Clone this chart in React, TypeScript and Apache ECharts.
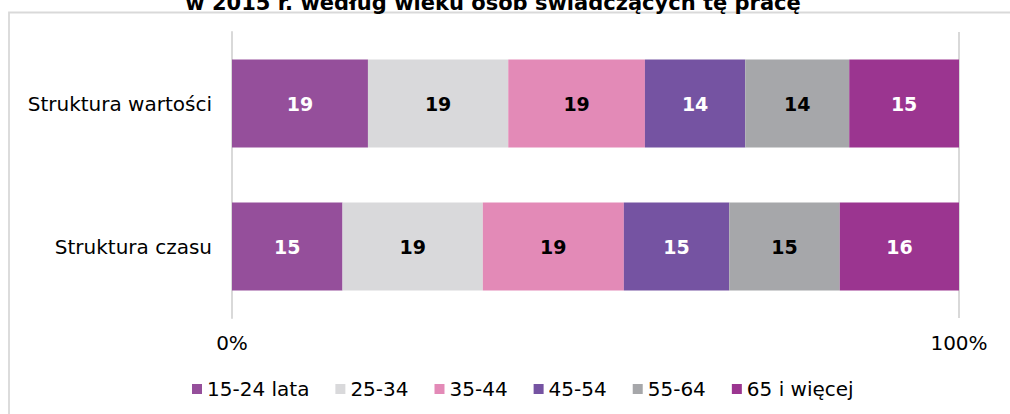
import React, { useEffect, useRef } from "react";
import * as echarts from "echarts";

const categories = ["Struktura wartości", "Struktura czasu"];
const seriesNames = ["15-24 lata", "25-34", "35-44", "45-54", "55-64", "65 i więcej"];
const seriesColors = ["#954F9B", "#D9D9DB", "#E38AB7", "#7553A2", "#A6A7AA", "#9B3590"];
const labelColors = ["#FFFFFF", "#000000", "#000000", "#FFFFFF", "#000000", "#FFFFFF"];
// values per series: [Struktura wartości, Struktura czasu]
const v15_24 = [18.7, 15.2];
const v25_34 = [19.3, 19.3];
const v35_44 = [18.8, 19.4];
const v45_54 = [13.8, 14.5];
const v55_64 = [14.3, 15.2];
const v65plus = [15.1, 16.4];
const seriesValues = [v15_24, v25_34, v35_44, v45_54, v55_64, v65plus];
const titleText = "w 2015 r. według wieku osób świadczących tę pracę";

const FONT = '"DejaVu Sans", Verdana, sans-serif';

export default function App() {
  const ref = useRef<HTMLDivElement>(null);
  useEffect(() => {
    if (!ref.current) return;
    const chart = echarts.init(ref.current, null, { renderer: "svg" });
    chart.setOption({
      animation: false,
      backgroundColor: "#ffffff",
      textStyle: { fontFamily: FONT },
      graphic: [
        {
          type: "rect",
          shape: { x: 9, y: 12.5, width: 1200, height: 600 },
          style: { fill: "none", stroke: "#D9D9D9", lineWidth: 1.8 },
          silent: true,
        },
        {
          type: "text",
          x: 493,
          y: 3,
          style: {
            text: titleText,
            fontFamily: FONT,
            fontSize: 21,
            fontWeight: "bold",
            fill: "#000000",
            align: "center",
            verticalAlign: "middle",
          },
        },
      ],
      grid: { left: 232, right: 51, top: 32, bottom: 96, containLabel: false },
      xAxis: {
        type: "value",
        min: 0,
        max: 100,
        interval: 100,
        axisLine: { show: false },
        axisTick: { show: false },
        splitLine: { show: true, lineStyle: { color: "#D9D9D9", width: 2 } },
        axisLabel: {
          formatter: "{value}%",
          color: "#000000",
          fontSize: 20,
          fontFamily: FONT,
          margin: 15,
        },
      },
      yAxis: {
        type: "category",
        inverse: true,
        data: categories,
        axisLine: { show: true, lineStyle: { color: "#D9D9D9", width: 2 } },
        axisTick: { show: false },
        axisLabel: { color: "#000000", fontSize: 20, fontFamily: FONT, margin: 20 },
      },
      legend: {
        left: 187,
        top: 374,
        icon: "rect",
        itemWidth: 10,
        itemHeight: 10,
        itemGap: 26,
        textStyle: { color: "#000000", fontSize: 20, fontFamily: FONT },
        data: seriesNames,
      },
      series: seriesNames.map((name, i) => ({
        name,
        type: "bar",
        stack: "total",
        barWidth: 88,
        data: seriesValues[i],
        itemStyle: { color: seriesColors[i] },
        label: {
          show: true,
          position: "inside",
          formatter: (p: any) => String(Math.round(p.value)),
          color: labelColors[i],
          fontSize: 19,
          fontWeight: "bold",
          fontFamily: FONT,
        },
      })),
    });
    return () => chart.dispose();
  }, []);
  return (
    <div
      ref={ref}
      style={{ position: "absolute", left: 0, top: 0, width: 1010, height: 414 }}
    />
  );
}
